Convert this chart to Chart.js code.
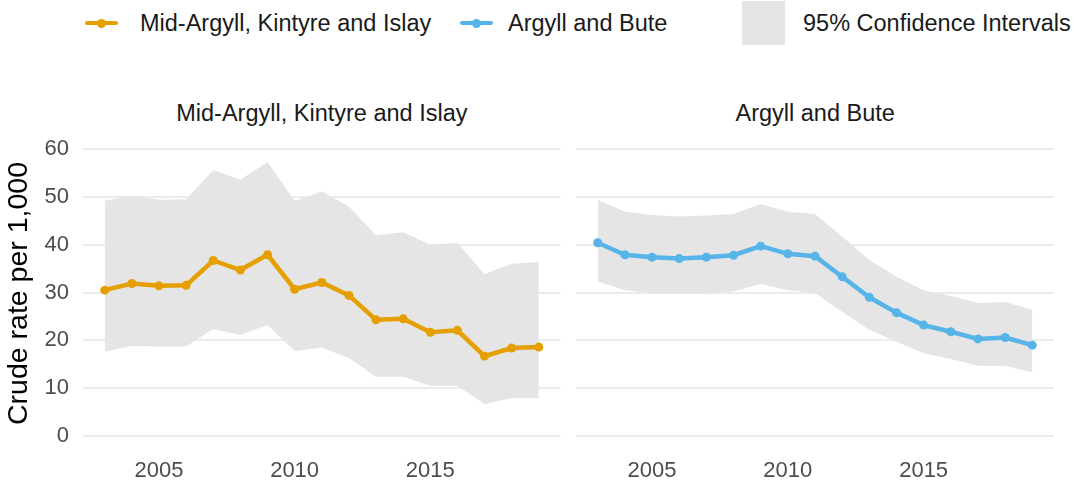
<!DOCTYPE html>
<html>
<head>
<meta charset="utf-8">
<script src="https://cdn.jsdelivr.net/npm/chart.js@4.4.1/dist/chart.umd.min.js"></script>
<style>
  body { margin: 0; background: #fff; font-family: "Liberation Sans", Arial, sans-serif; }
  #wrap { position: relative; width: 1075px; height: 496px; overflow: hidden; }
  canvas { position: absolute; top: 0; }
  .txt { position: absolute; white-space: nowrap; color: #1a1a1a; font-size: 23.5px; line-height: 1; }
  .key-line { position: absolute; height: 4px; border-radius: 2px; }
  .key-dot { position: absolute; width: 9px; height: 9px; border-radius: 50%; }
</style>
</head>
<body>
<div id="wrap">
  <!-- legend -->
  <div class="key-line" style="left:85px; top:21px; width:33px; background:#E69F00;"></div>
  <div class="key-dot" style="left:97px; top:19px; background:#E69F00;"></div>
  <div class="txt" style="left:140px; top:12px;">Mid-Argyll, Kintyre and Islay</div>
  <div class="key-line" style="left:460px; top:21px; width:33px; background:#56B4E9;"></div>
  <div class="key-dot" style="left:472px; top:19px; background:#56B4E9;"></div>
  <div class="txt" style="left:508px; top:12px;">Argyll and Bute</div>
  <div style="position:absolute; left:742px; top:1px; width:43px; height:44px; background:#e5e5e5;"></div>
  <div class="txt" style="left:803px; top:12px;">95% Confidence Intervals</div>

  <!-- facet titles -->
  <div class="txt" id="title-left" style="top:102px;">Mid-Argyll, Kintyre and Islay</div>
  <div class="txt" id="title-right" style="top:102px;">Argyll and Bute</div>

  <canvas id="left" width="565" height="496" style="left:0;"></canvas>
  <canvas id="right" width="510" height="496" style="left:565px;"></canvas>
</div>
<script>
// ✅ 데이터
const years = [2003, 2004, 2005, 2006, 2007, 2008, 2009, 2010, 2011, 2012, 2013, 2014, 2015, 2016, 2017, 2018, 2019];

const midRate  = [30.5, 31.9, 31.4, 31.5, 36.7, 34.7, 37.9, 30.7, 32.1, 29.4, 24.3, 24.5, 21.7, 22.1, 16.7, 18.4, 18.6];
const midLower = [17.6, 18.8, 18.7, 18.7, 22.4, 21.1, 23.2, 17.8, 18.5, 16.3, 12.4, 12.4, 10.5, 10.5, 6.7, 7.9, 7.9];
const midUpper = [49.2, 50.3, 49.4, 49.5, 55.6, 53.6, 57.3, 49.2, 51.1, 48.0, 42.0, 42.6, 40.0, 40.4, 33.8, 36.0, 36.4];

const abRate  = [40.4, 37.9, 37.4, 37.1, 37.4, 37.8, 39.7, 38.1, 37.6, 33.3, 29.0, 25.8, 23.2, 21.8, 20.3, 20.6, 19.0];
const abLower = [32.3, 30.5, 29.9, 29.7, 29.9, 30.2, 31.8, 30.5, 29.9, 26.0, 22.2, 19.7, 17.3, 16.1, 14.7, 14.7, 13.3];
const abUpper = [49.4, 46.9, 46.2, 45.9, 46.1, 46.4, 48.5, 46.9, 46.4, 41.7, 36.8, 33.3, 30.5, 29.3, 27.8, 28.0, 26.4];

const yTicks = [0, 10, 20, 30, 40, 50, 60];
const xTicks = [2005, 2010, 2015];

const FONT = "'Liberation Sans', Arial, sans-serif";

function toPoints(values) {
  return years.map((yr, i) => ({ x: yr, y: values[i] }));
}

// 🔹 패널 하나 그리기
function drawPanel(canvasId, rate, lower, upper, color, showYAxis) {
  const ctx = document.getElementById(canvasId).getContext("2d");
  return new Chart(ctx, {
    type: "line",
    data: {
      datasets: [
        {
          data: toPoints(rate),
          borderColor: color,
          backgroundColor: color,
          borderWidth: 4.5,
          pointRadius: 4.5,
          pointBorderWidth: 0,
          tension: 0,
          fill: false
        },
        {
          data: toPoints(upper),
          borderWidth: 0,
          borderColor: "rgba(0,0,0,0)",
          pointRadius: 0,
          backgroundColor: "#e5e5e5",
          fill: "+1",
          tension: 0
        },
        {
          data: toPoints(lower),
          borderWidth: 0,
          borderColor: "rgba(0,0,0,0)",
          pointRadius: 0,
          fill: false,
          tension: 0
        }
      ]
    },
    options: {
      responsive: false,
      animation: false,
      layout: { padding: { top: 139, right: showYAxis ? 4 : 21, bottom: 0, left: 0 } },
      plugins: {
        legend: { display: false },
        tooltip: { enabled: false },
        title: { display: false }
      },
      scales: {
        x: {
          type: "linear",
          min: 2002.2,
          max: 2019.8,
          afterBuildTicks: (axis) => { axis.ticks = xTicks.map(v => ({ value: v })); },
          afterFit: (axis) => { axis.height = 48; },
          grid: { display: false, drawTicks: false },
          border: { display: false },
          ticks: {
            padding: 10,
            color: "#4d4d4d",
            font: { family: FONT, size: 22 },
            callback: (v) => String(v)
          }
        },
        y: {
          min: -2.5,
          max: 62.1,
          afterBuildTicks: (axis) => { axis.ticks = yTicks.map(v => ({ value: v })); },
          afterFit: (axis) => { axis.width = showYAxis ? 83 : 11; },
          grid: { color: "#ebebeb", lineWidth: 2, drawTicks: false },
          border: { display: false },
          ticks: {
            display: showYAxis,
            padding: 14,
            color: "#4d4d4d",
            font: { family: FONT, size: 22 }
          },
          title: {
            display: showYAxis,
            text: "Crude rate per 1,000",
            color: "#000000",
            font: { family: FONT, size: 28.5 },
            padding: { top: 2, bottom: 0 }
          }
        }
      }
    }
  });
}

// 🔹 패널 제목 가운데 맞추기
function placeTitle(id, chart, offsetLeft) {
  const el = document.getElementById(id);
  const area = chart.chartArea;
  const center = offsetLeft + (area.left + area.right) / 2;
  el.style.left = (center - el.offsetWidth / 2) + "px";
}

const leftChart = drawPanel("left", midRate, midLower, midUpper, "#E69F00", true);
const rightChart = drawPanel("right", abRate, abLower, abUpper, "#56B4E9", false);
placeTitle("title-left", leftChart, 0);
placeTitle("title-right", rightChart, 565);
</script>
</body>
</html>
